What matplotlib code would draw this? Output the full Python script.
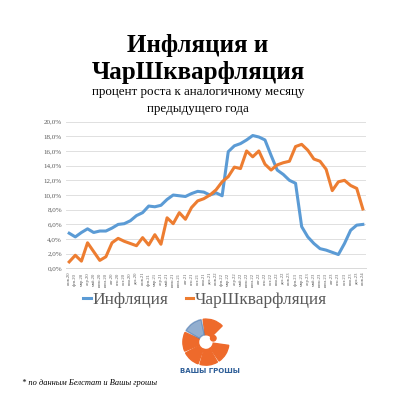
import numpy as np
import matplotlib
matplotlib.use('Agg')
import matplotlib.pyplot as plt
from matplotlib.patches import Wedge, Circle

# Данные (проценты, год к году), янв.2020 - янв.2024
months_ru = ['янв', 'фев', 'мар', 'апр', 'май', 'июн',
             'июл', 'авг', 'сен', 'окт', 'ноя', 'дек']
labels = [f'{m}.{y}' for y in range(20, 25) for m in months_ru][:49]

inflation = [4.8, 4.3, 4.9, 5.4, 4.9, 5.1, 5.1, 5.5, 6.0, 6.1, 6.5, 7.2,
             7.6, 8.5, 8.4, 8.6, 9.4, 10.0, 9.9, 9.8, 10.2, 10.5, 10.4, 10.0,
             10.3, 9.9, 15.9, 16.7, 17.0, 17.5, 18.1, 17.9, 17.5, 15.4, 13.4, 12.8,
             12.0, 11.6, 5.7, 4.3, 3.4, 2.7, 2.5, 2.2, 1.9, 3.4, 5.2, 5.9,
             6.0]
sharshk = [0.9, 1.8, 1.0, 3.5, 2.3, 1.1, 1.6, 3.5, 4.1, 3.7, 3.4, 3.1,
           4.2, 3.2, 4.6, 3.3, 6.9, 6.1, 7.6, 6.7, 8.3, 9.2, 9.5, 10.0,
           10.7, 11.8, 12.5, 13.8, 13.6, 16.0, 15.2, 16.0, 14.2, 13.4, 14.1, 14.4,
           14.6, 16.6, 16.9, 16.1, 14.9, 14.6, 13.5, 10.6, 11.8, 12.0, 11.3, 10.9,
           8.1]

blue = '#5B9BD5'
orange = '#ED7D31'
gray = '#595959'

plt.rcParams['font.family'] = ['Liberation Serif', 'DejaVu Serif']

fig = plt.figure(figsize=(3.96, 3.96), dpi=100)

# Заголовок
fig.text(0.5, 0.884, 'Инфляция и', ha='center', va='center',
         fontsize=18, fontweight='bold')
fig.text(0.5, 0.817, 'ЧарШкварфляция', ha='center', va='center',
         fontsize=18, fontweight='bold')
fig.text(0.5, 0.768, 'процент роста к аналогичному месяцу', ha='center',
         va='center', fontsize=9.4)
fig.text(0.5, 0.725, 'предыдущего года', ha='center', va='center', fontsize=9.4)

# Основной график
ax = fig.add_axes([0.167, 0.322, 0.757, 0.371])
x = np.arange(len(labels))
l1, = ax.plot(x, inflation, color=blue, lw=2.2, solid_joinstyle='round')
l2, = ax.plot(x, sharshk, color=orange, lw=2.2, solid_joinstyle='round')

ax.set_xlim(-0.5, len(labels) - 0.5)
ax.set_ylim(0, 20)
ax.set_yticks(np.arange(0, 21, 2))
ax.set_yticklabels([f'{v:.1f}%'.replace('.', ',') for v in np.arange(0, 21, 2)],
                   fontsize=5, color=gray)
ax.set_xticks(x)
ax.set_xticklabels(labels, rotation=90, fontsize=3.3, color=gray)
ax.tick_params(axis='both', length=0, pad=3)
ax.grid(axis='y', color='#E0E0E0', lw=0.7)
ax.set_axisbelow(True)
for s in ['top', 'right', 'left']:
    ax.spines[s].set_visible(False)
ax.spines['bottom'].set_color('#D9D9D9')
ax.spines['bottom'].set_linewidth(0.7)

fig.legend([l1, l2], ['Инфляция', 'ЧарШкварфляция'], loc='center',
           bbox_to_anchor=(0.518, 0.242), ncol=2, frameon=False, fontsize=12.5,
           labelcolor=gray, handlelength=0.45, handletextpad=0.1,
           columnspacing=1.0)

# Логотип
lax = fig.add_axes([0.520 - 0.064, 0.136 - 0.064, 0.128, 0.128])
lax.set_xlim(-1.1, 1.1)
lax.set_ylim(-1.1, 1.1)
lax.set_aspect('equal')
lax.axis('off')
logo_orange = '#EE6A2B'
for a1, a2 in [(45, 97), (155, 203), (208, 250), (255, 300), (305, 352)]:
    lax.add_patch(Wedge((0, 0), 1.0, a1, a2, width=0.68, color=logo_orange))
lax.add_patch(Wedge((0, 0), 1.0, 102, 150, width=0.68, color='#4A78B0', alpha=0.6))
lax.add_patch(Circle((0.32, 0.17), 0.12, color=logo_orange))
fig.text(0.529, 0.063, 'ВАШЫ ГРОШЫ', ha='center', va='center', fontsize=5,
         fontweight='bold', color='#2F5F98', family=['DejaVu Sans'])

# Источник
fig.text(0.055, 0.033, '* по данным Белстат и Вашы грошы', ha='left',
         va='center', fontsize=6, style='italic')

fig.savefig('out.png', dpi=100, facecolor='white')
